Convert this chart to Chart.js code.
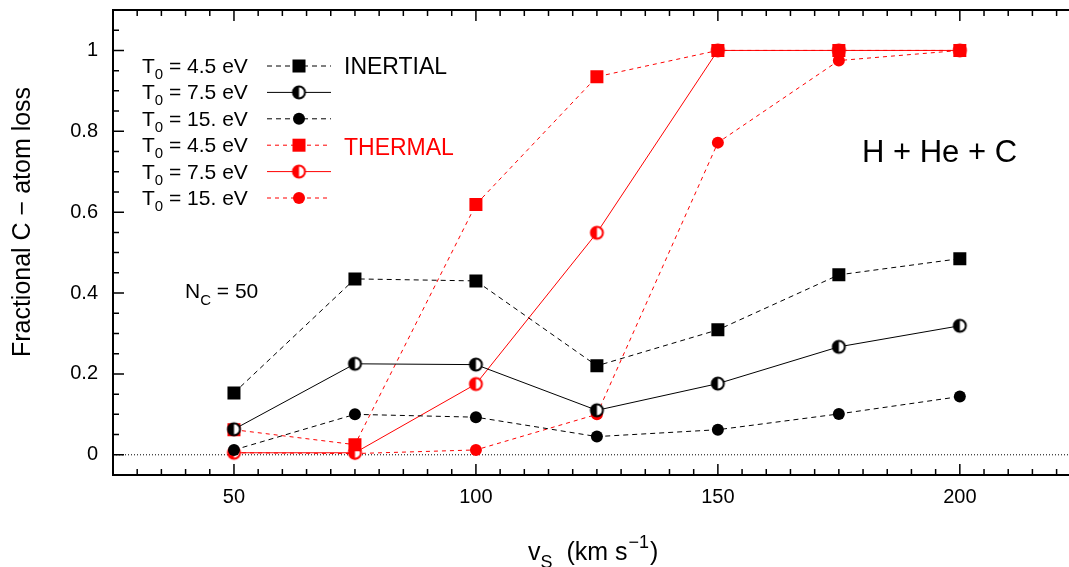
<!DOCTYPE html>
<html>
<head>
<meta charset="utf-8">
<script src="https://cdn.jsdelivr.net/npm/chart.js@4.4.1/dist/chart.umd.min.js"></script>
<style>
html, body { margin: 0; padding: 0; overflow: hidden; background: #fff; }
#caja { width: 1090px; height: 567px; }
canvas { display: block; }
</style>
</head>
<body>
<div id="caja"><canvas id="myChart" width="1090" height="567"></canvas></div>
<script>
// valores
const speeds = [50, 75, 100, 125, 150, 175, 200]
const inertial45 = [0.153, 0.435, 0.430, 0.220, 0.309, 0.445, 0.485]
const inertial75 = [0.063, 0.225, 0.223, 0.110, 0.176, 0.267, 0.319]
const inertial15 = [0.012, 0.100, 0.093, 0.045, 0.062, 0.101, 0.144]
const thermal45 = [0.062, 0.025, 0.619, 0.935, 1.0, 1.0, 1.0]
const thermal75 = [0.005, 0.005, 0.175, 0.549, 1.0, 1.0, 1.0]
const thermal15 = [0.005, 0.003, 0.012, 0.100, 0.772, 0.975, 1.0]
const legendTemps = ['4.5', '7.5', '15.', '4.5', '7.5', '15.']
const xTickValues = [50, 100, 150, 200]
const yTickValues = [0, 0.2, 0.4, 0.6, 0.8, 1]

const FONT = '"Liberation Sans", Arial, sans-serif'
const ctx = document.getElementById('myChart')

// circulo con la mitad izquierda rellena
function halfCircle(color){
    const c = document.createElement('canvas')
    c.width = 17
    c.height = 17
    const g = c.getContext('2d')
    g.beginPath()
    g.arc(8.5, 8.5, 6, 0, Math.PI * 2)
    g.fillStyle = '#fff'
    g.fill()
    g.beginPath()
    g.moveTo(8.5, 8.5)
    g.arc(8.5, 8.5, 6, Math.PI / 2, Math.PI * 1.5)
    g.closePath()
    g.fillStyle = color
    g.fill()
    g.beginPath()
    g.arc(8.5, 8.5, 6, 0, Math.PI * 2)
    g.lineWidth = 2
    g.strokeStyle = color
    g.stroke()
    return c
}

const halfBlack = halfCircle('#000')
const halfRed = halfCircle('#ff0000')

function serie(valores, color, dash, estilo, radio){
    return {
        data: speeds.map((v, i) => ({x: v, y: valores[i]})),
        borderColor: color,
        backgroundColor: color,
        borderWidth: 1,
        borderDash: dash,
        pointStyle: estilo,
        pointRadius: radio,
        pointBorderWidth: 0,
        pointBackgroundColor: color,
        fill: false,
        tension: 0
    }
}

const datasets = [
    serie(inertial45, '#000', [5, 4], 'rect', 9.2),
    serie(inertial75, '#000', [], halfBlack, 7),
    serie(inertial15, '#000', [5, 4], 'circle', 6),
    serie(thermal45, '#ff0000', [4, 4], 'rect', 9.2),
    serie(thermal75, '#ff0000', [], halfRed, 7),
    serie(thermal15, '#ff0000', [4, 4], 'circle', 6)
]

function texto(c, s, x, y, size, color){
    c.font = size + 'px ' + FONT
    c.fillStyle = color || '#000'
    c.fillText(s, x, y)
    return x + c.measureText(s).width
}

function marcador(c, ds, x, y){
    if (ds.pointStyle === 'rect') {
        const s = ds.pointRadius * Math.SQRT1_2
        c.fillStyle = ds.backgroundColor
        c.fillRect(x - s, y - s, 2 * s, 2 * s)
    } else if (ds.pointStyle === 'circle') {
        c.beginPath()
        c.arc(x, y, ds.pointRadius, 0, Math.PI * 2)
        c.fillStyle = ds.backgroundColor
        c.fill()
    } else {
        c.drawImage(ds.pointStyle, x - 8.5, y - 8.5)
    }
}

// sin relleno extra por las etiquetas de los extremos
function sinPadding(s){
    s.paddingTop = 0
    s.paddingBottom = 0
    s.paddingLeft = 0
    s.paddingRight = 0
}

const decor = {
    id: 'decor',
    beforeDatasetsDraw(chart){
        const c = chart.ctx
        const a = chart.chartArea
        const y0 = chart.scales.y.getPixelForValue(0)
        c.save()
        c.strokeStyle = '#000'
        c.lineWidth = 1
        c.setLineDash([1, 2])
        c.beginPath()
        c.moveTo(a.left, y0)
        c.lineTo(a.right, y0)
        c.stroke()
        c.restore()
    },
    afterDatasetsDraw(chart){
        const c = chart.ctx
        const a = chart.chartArea
        const sx = chart.scales.x
        const sy = chart.scales.y
        c.save()

        // marcas hacia adentro
        c.strokeStyle = '#000'
        c.lineWidth = 1.5
        c.beginPath()
        for (let k = -1; k <= 22; k++) {
            const py = sy.getPixelForValue(k * 0.05)
            const len = k % 4 === 0 ? 11 : 6
            c.moveTo(a.left, py); c.lineTo(a.left + len, py)
            c.moveTo(a.right, py); c.lineTo(a.right - len, py)
        }
        for (let k = 5; k <= 45; k++) {
            const px = sx.getPixelForValue(k * 5)
            const len = (k * 5) % 50 === 0 ? 11 : 6
            c.moveTo(px, a.bottom); c.lineTo(px, a.bottom - len)
            c.moveTo(px, a.top); c.lineTo(px, a.top + len)
        }
        c.stroke()

        c.lineWidth = 2
        c.strokeRect(a.left, a.top, a.right - a.left, a.bottom - a.top)

        // leyenda
        c.textBaseline = 'alphabetic'
        c.textAlign = 'left'
        for (let i = 0; i < datasets.length; i++) {
            const ds = datasets[i]
            const ly = 66 + i * 26.4
            let x = texto(c, 'T', 142, ly + 7, 21)
            x = texto(c, '0', x, ly + 13, 15)
            texto(c, ' = ' + legendTemps[i] + ' eV', x, ly + 7, 21)
            c.strokeStyle = ds.borderColor
            c.lineWidth = 1
            c.setLineDash(ds.borderDash)
            c.beginPath()
            c.moveTo(267, ly)
            c.lineTo(331, ly)
            c.stroke()
            c.setLineDash([])
            marcador(c, ds, 299, ly)
        }
        texto(c, 'INERTIAL', 344, 74, 23, '#000')
        texto(c, 'THERMAL', 344, 155, 23, '#ff0000')

        texto(c, 'H + He + C', 862, 162, 31)

        let nx = texto(c, 'N', 185, 298, 21)
        nx = texto(c, 'C', nx, 305, 15)
        texto(c, ' = 50', nx, 298, 21)

        // titulo eje x
        let tx = texto(c, 'v', 528, 560, 25)
        tx = texto(c, 'S', tx, 568, 18)
        tx = texto(c, '  (km s', tx, 560, 25)
        tx = texto(c, '\u22121', tx + 1, 548, 18)
        texto(c, ')', tx + 1, 560, 25)

        // titulo eje y
        c.translate(30, 222)
        c.rotate(-Math.PI / 2)
        c.textAlign = 'center'
        texto(c, 'Fractional C \u2212 atom loss', 0, 0, 25)
        c.restore()
    }
}

new Chart(ctx, {
    type: 'line',
    data: { datasets: datasets },
    options: {
        responsive: false,
        devicePixelRatio: 1,
        animation: false,
        events: [],
        layout: { padding: { top: 10, right: 4, left: 0, bottom: 0 } },
        plugins: {
            legend: { display: false },
            tooltip: { enabled: false }
        },
        scales: {
            x: {
                type: 'linear',
                min: 25,
                max: 225,
                afterFit: s => { s.height = 92; sinPadding(s) },
                afterBuildTicks: s => { s.ticks = xTickValues.map(v => ({value: v})) },
                grid: { display: false, drawTicks: false },
                border: { display: false },
                ticks: {
                    autoSkip: false,
                    maxRotation: 0,
                    padding: 10,
                    color: '#000',
                    font: { family: FONT, size: 20 },
                    callback: v => String(v)
                }
            },
            y: {
                type: 'linear',
                min: -0.05,
                max: 1.1,
                afterFit: s => { s.width = 113; sinPadding(s) },
                afterBuildTicks: s => { s.ticks = yTickValues.map(v => ({value: v})) },
                grid: { display: false, drawTicks: false },
                border: { display: false },
                ticks: {
                    autoSkip: false,
                    padding: 15,
                    color: '#000',
                    font: { family: FONT, size: 20 },
                    callback: v => String(v)
                }
            }
        }
    },
    plugins: [decor]
})
</script>
</body>
</html>
